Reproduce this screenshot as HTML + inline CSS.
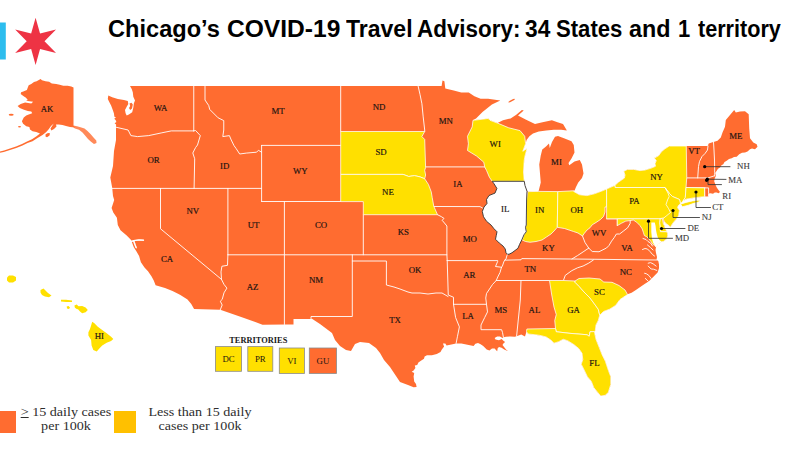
<!DOCTYPE html>
<html><head><meta charset="utf-8"><title>Chicago COVID-19 Travel Advisory</title>
<style>
html,body{margin:0;padding:0;background:#fff;}
body{width:800px;height:450px;position:relative;overflow:hidden;}
.title{position:absolute;left:109px;top:16.2px;font-family:"Liberation Sans",sans-serif;font-weight:bold;font-size:23.5px;color:#000;white-space:nowrap;letter-spacing:0px;}
.lb{font-family:"Liberation Serif",serif;font-size:8.8px;fill:#1c1410;stroke:#1c1410;stroke-width:0.18px;}
.ll{font-family:"Liberation Serif",serif;font-size:8.8px;fill:#3c3c3c;stroke:#3c3c3c;stroke-width:0.12px;}
.bx{font-family:"Liberation Serif",serif;font-size:8.8px;fill:#1c1410;}
.ter{font-family:"Liberation Serif",serif;font-size:8.4px;font-weight:bold;fill:#1a1a1a;}
.leg{position:absolute;font-family:"Liberation Serif",serif;font-size:13px;line-height:13.5px;color:#2d2d2d;text-align:center;white-space:nowrap;transform:scaleX(1.085);transform-origin:50% 0;}
.sw{position:absolute;}
</style></head><body>
<svg width="800" height="450" viewBox="0 0 800 450" style="position:absolute;left:0;top:0"><rect x="0" y="22.5" width="5.8" height="37" fill="#2DBDEE"/><polygon points="35.6,17.7 40.05,33.59 56.04,29.5 44.5,41.3 56.04,53.1 40.05,49.01 35.6,64.9 31.15,49.01 15.16,53.1 26.7,41.3 15.16,29.5 31.15,33.59" fill="#EE3344"/><polygon points="130,86 441.6,86 442.5,80.5 444.4,81.2 445.3,88.5 453.75,90.6 461.25,92.5 468.75,92.5 474.4,96.25 480.6,98.75 488.1,98.75 500.3,100.6 491.9,104.4 482.5,111.9 476,118.4 473,120.3 480,119.5 488.1,118.4 490,120.3 497.5,123.1 503,120.3 510.6,118.4 516.25,114.7 521.9,110 523.75,110.5 518,115.6 525.6,119.4 535,124 542.5,122.2 551.9,120.3 557.5,122.2 563,124 566.9,130.6 561.25,129.7 553.75,129.7 546.25,130.6 538.75,131.6 533,133.4 529.4,136.25 526.6,140 525.6,143.75 522.8,151.25 527,148.5 525,156 524.25,160 523.5,172 524.25,181.3 525,185.6 527,191.2 532.5,191.6 538.5,191.4 540.75,182.5 540,173.5 539.25,164.5 540.75,155.5 542.25,149.5 546,146.5 549,143.5 549.75,148 552,142 555,136.75 558,136 564,138.25 571.5,141.25 573.75,145 574.5,152.5 571.5,158.5 568.5,163 569.25,165.25 574.5,161.5 579.75,160 582,164.5 583.5,173.5 582,178 578.25,182.5 576,187 574.5,190.75 573.75,191.5 579.4,194.7 586.9,195.6 594.4,193.75 601.9,191 606.6,189 615,185.3 618.75,181.9 624.4,178.1 625,175 623.75,171.25 627.5,169.4 633.75,169.4 640,170.6 645,170 651.25,168.1 655.6,166.25 655,163.75 656.25,160.6 654.4,158.1 658.75,155.6 661.25,151.9 665,148.75 669.4,146 686.25,146 707.7,146 708.75,143.5 712.5,142.3 713.5,142 717.5,140.8 720.8,137.5 722.5,132.5 725,126.7 725.8,120 730,115 734.2,110 735.8,112.5 740,111.6 745,111.3 748.7,114.2 749.2,128.3 750,138.3 753.3,142.5 756.7,144.2 757.5,146.7 755,149.2 752,148.6 750,149.2 747.5,151.5 745,152.5 742,152.8 739.2,154.2 736.7,156.7 734,157 731.7,158.3 729,159 726.7,160.8 724.5,162 723.3,164.2 721.5,165.3 720,167.5 718,168.8 716.7,170.8 715,173.3 715.4,173.2 716,175.7 714.8,178.2 714.2,181.3 715.4,184.4 716.7,187.5 718.5,190 720,192 718.5,193.2 716.7,192.5 714.8,192.5 713,193.8 710.5,193.2 708.7,193.5 708.4,196.9 704.8,196.9 704.5,196.7 699,197.2 692,198.2 686,199.2 683,201 680.5,203.5 678.7,205.1 677.5,207.4 678.7,209.4 679.4,210.6 679,212.9 678.7,215.2 677.5,217.6 675.6,219.9 673.6,222.2 671.7,224.9 670.5,227.3 668.6,225.3 666.2,223.8 664.3,221.4 663.5,220.5 663.4,223.9 664.4,225.6 665,227.8 665.8,229.5 666.9,231.7 667.6,233.5 667.8,236 666.5,239 663.8,241.3 661,242 658,244 656,247 655.5,250 656,253 657,257 656.5,260 658.3,261 659,264.5 659,268.2 657.6,272.6 653.2,276.9 648.9,281.2 644.6,284.1 640.2,287 635.9,289.9 631.6,292.8 627.5,294.3 620,299.5 615.5,305.5 609.5,309.25 603.5,311.5 599.75,315.25 598.25,320.5 596,325 595.25,331 594.4,331.6 596,339.3 599.1,347.1 602.2,354.9 605.3,361.1 608.4,370.4 610.8,376.7 610.8,384.4 608.4,392.2 605.3,395.3 600.7,396.1 597.5,392.2 593.7,387.5 591.3,381.3 587.4,376.7 585.1,372 582.8,367.3 581.2,364.2 582.8,359.5 582,353.3 578.9,348.7 574.2,344.8 568,340.9 563.3,339.3 558.7,341.7 554,343.2 550.9,340.1 546.2,337 540,335.4 533,334.5 528,334 526.5,331.5 525,336.5 521.25,334.4 516.6,336.25 514.7,336.8 510.4,336.4 506,336.8 503.4,337.2 502.5,338.1 499.9,336.4 497.2,336.4 494.6,338.1 495.5,339.4 499,340.3 501.6,339 503.4,340.7 505.1,342.1 503.4,343.4 502.5,345.1 506,349.5 508.2,351.2 504.2,349.5 501.6,347.7 499,346.9 497.7,348.2 497.2,351.2 496.4,350.4 494.6,348.6 492,348.6 489.4,350.4 486.7,349.5 485,347.7 483.2,346 480.6,344.2 478,343 475.4,343.8 473.6,346 467.5,344.7 461.4,343.4 456.1,343.4 450.2,344.8 446.6,345.4 445.3,343.6 442.9,343.6 444.1,346.6 441.7,349.7 440.5,352.1 436.8,354 431.9,355.2 427,355.2 424.6,356.4 424,358.8 420.9,360.7 418.4,362.5 417.2,365 414.8,365.6 415.4,368 413.6,370.5 411.7,371.7 414.2,372.9 413.6,376.6 414.2,381.5 416,383.9 416.6,387 413.6,387.2 408,385 400,382 396,376 390,367 384,360 380,353 376,348 369,343 360,342 355,344 351,351 346,350 340,346 335,340 332,333 326,328.5 320,324 315,320.8 312,318.8 311,319 293.5,319 293.5,324.5 284.5,324.5 262.5,324.7 241.9,317.2 220.3,309.7 194.1,309.1 191.25,304 187.5,299.4 180,294.7 172.5,291 165,288.1 155.6,285.3 153.75,280.6 151.6,276.5 148,271.2 144.5,267.6 140.9,262.3 139.1,256 136.5,251.6 133.8,247.2 131.1,240 126.7,235.6 120.5,230.2 117.8,224.9 116.9,217.8 113.3,212.5 111.6,208 114.2,200 113,196 112.2,187.8 110.3,177.5 113,166 114,151 116,140 116,127.2 116.1,124.4 114.6,123.2 116.4,122 115.6,120 114.2,118.8 116,117.6 114.4,116.7 113.9,113.3 112.8,110 111.1,105.6 109.4,102.2 107.8,98.9 108.3,95.6 112.2,97.2 117.8,98.9 123.9,100 127.8,101.1 128.3,103.9 126.7,106.7 125,110 125.6,113.3 126.7,115.6 128.9,114.4 132.2,112.2 133.3,107.8 133.9,103.3 135,100.6 133.3,96.7 132.8,92.2 131.7,88.9" fill="#FF6C30"/><polygon points="40.6,79 42,80.3 45.5,81.2 49.1,81.7 51.8,83.4 56.2,83.9 59.7,84.8 63.3,85.7 67.7,85.7 71.3,86.5 73.5,87.4 73.5,125.6 75,127.6 70,127 66,126 62.5,125 58.75,124.4 56,124.5 56.5,126.5 54,129 51.25,130.6 50.5,128.5 53.75,123.6 51,126 48.5,129.5 46.25,131.9 42.5,135 37.5,138.1 32.5,141.25 27.5,143.1 22.5,145.6 16.25,148.1 10,150 3.75,151.9 0,152.8 0,151.6 4,150.4 10,148.5 16,146.5 22,144 27,141.6 32,139.3 36.5,136.3 40,133.6 36.25,131.9 32.5,131.25 30,129.4 29.4,126.9 26.25,126.25 23.1,123.75 21.9,121.25 23.75,117.5 26.25,115.6 28.7,114.5 32.2,113.2 31.3,111.4 27.8,111 23.3,109.6 19.8,107.9 17.6,106.1 20.7,103.9 25.1,102.5 31.3,103.4 33.1,101.7 26,100.8 27.8,99.9 26,97.7 23.3,95.9 20.7,94.1 21.1,92.3 23.3,91.4 26.9,90.1 27.8,87.4 28.7,85.2 31.3,83.9 34,82.1 36.6,81.2" fill="#FF6C30"/><polygon points="73.5,125.6 77,126.2 80.5,127.3 84.5,128.5 87.5,131 90.5,134 93.5,137.5 96.3,140.5 96.5,143 94,144 91,141.8 88,139 85.5,136 82.5,132.5 79,129.8 75,128.4 73.5,127.6" fill="#FF6C30" fill-opacity="0.8"/><polygon points="45.6,134.2 48,133 50,133.2 49.5,135.5 47,137.3 45.5,136.5" fill="#FF6C30"/><polygon points="129.5,103.5 131.5,102.8 132.8,104.5 132,108.5 130.2,110 129,108 130.2,106" fill="#FF6C30"/><ellipse cx="511.6" cy="100.6" rx="3.6" ry="0.8" fill="#FF6C30" transform="rotate(-28 511.6 100.6)"/><ellipse cx="11.2" cy="114.7" rx="2.5" ry="1" fill="#FF6C30"/><ellipse cx="19.5" cy="126.8" rx="1.5" ry="0.8" fill="#FF6C30"/><polyline points="116,127.2 128.1,130 130.9,135.6 137.5,136.6 148.75,135.6 161.9,132.8 171.25,130.9 193.75,130.9" fill="none" stroke="#FFFFFF" stroke-width="0.9" stroke-linejoin="round" stroke-linecap="round"/><polyline points="193.75,86 193.75,130.9" fill="none" stroke="#FFFFFF" stroke-width="0.9" stroke-linejoin="round" stroke-linecap="round"/><polyline points="193.75,130.9 195.6,130.5 200.3,135.6 197.5,145 195.6,147.5 192.8,153 194.7,158.75 194.1,188.4" fill="none" stroke="#FFFFFF" stroke-width="0.9" stroke-linejoin="round" stroke-linecap="round"/><polyline points="205,86 205,100 208.75,105.6 209.7,109.4 218.1,117.8 223.75,120.6 223.75,130 222.8,136.6 229.4,135.6 231.25,140 234,145.6 236,148.4 239.7,154 246.25,153.1 256.6,152.2 258.4,150.3 261.6,152.2" fill="none" stroke="#FFFFFF" stroke-width="0.9" stroke-linejoin="round" stroke-linecap="round"/><polyline points="261.6,145.4 340.7,145.4" fill="none" stroke="#FFFFFF" stroke-width="0.9" stroke-linejoin="round" stroke-linecap="round"/><polyline points="340.7,86 340.7,131.5" fill="none" stroke="#FFFFFF" stroke-width="0.9" stroke-linejoin="round" stroke-linecap="round"/><polyline points="261.6,145.4 261.6,201.5" fill="none" stroke="#FFFFFF" stroke-width="0.9" stroke-linejoin="round" stroke-linecap="round"/><polyline points="112.2,188.4 261.6,188.4" fill="none" stroke="#FFFFFF" stroke-width="0.9" stroke-linejoin="round" stroke-linecap="round"/><polyline points="160.5,188.4 160.5,228.75 221.5,279.4" fill="none" stroke="#FFFFFF" stroke-width="0.9" stroke-linejoin="round" stroke-linecap="round"/><polyline points="227.9,188.4 227.9,254.8" fill="none" stroke="#FFFFFF" stroke-width="0.9" stroke-linejoin="round" stroke-linecap="round"/><polyline points="227.9,254.8 227.5,265.3 221.9,266.25 221,271.9 221.5,279.4" fill="none" stroke="#FFFFFF" stroke-width="0.9" stroke-linejoin="round" stroke-linecap="round"/><polyline points="221.5,279.4 224,284.4 226.9,288.1 224,292.8 222.2,299.4 220.3,301.25 222.2,305 220.3,309.7" fill="none" stroke="#FFFFFF" stroke-width="0.9" stroke-linejoin="round" stroke-linecap="round"/><polyline points="261.6,201.5 340.7,201.5" fill="none" stroke="#FFFFFF" stroke-width="0.9" stroke-linejoin="round" stroke-linecap="round"/><polyline points="284.4,201.5 284.4,324.5" fill="none" stroke="#FFFFFF" stroke-width="0.9" stroke-linejoin="round" stroke-linecap="round"/><polyline points="227.9,254.8 446.9,254.8" fill="none" stroke="#FFFFFF" stroke-width="0.9" stroke-linejoin="round" stroke-linecap="round"/><polyline points="363.3,214.7 363.3,254.8" fill="none" stroke="#FFFFFF" stroke-width="0.9" stroke-linejoin="round" stroke-linecap="round"/><polyline points="352.3,254.8 352.3,316.5 311,316.5 311,319" fill="none" stroke="#FFFFFF" stroke-width="0.9" stroke-linejoin="round" stroke-linecap="round"/><polyline points="352.3,261 386.4,261 386.4,285 394,287 400,289 408,292 412,293 420,293 428,294 436,293 442,293 448,296.5" fill="none" stroke="#FFFFFF" stroke-width="0.9" stroke-linejoin="round" stroke-linecap="round"/><polyline points="437.5,214.7 441.25,216.6 444,218.4 442.2,220.3 446.9,226 446.9,254.8 447.2,260.6" fill="none" stroke="#FFFFFF" stroke-width="0.9" stroke-linejoin="round" stroke-linecap="round"/><polyline points="447.2,260.6 497.75,260.6 497.75,261.25 495.5,266.5 501.5,267.25" fill="none" stroke="#FFFFFF" stroke-width="0.9" stroke-linejoin="round" stroke-linecap="round"/><polyline points="447.2,260.6 448.25,295 453.5,297.25 453.5,304.3" fill="none" stroke="#FFFFFF" stroke-width="0.9" stroke-linejoin="round" stroke-linecap="round"/><polyline points="453.5,304.3 486.5,304.3" fill="none" stroke="#FFFFFF" stroke-width="0.9" stroke-linejoin="round" stroke-linecap="round"/><polyline points="453.5,304.3 455.6,317.5 459.4,326.9 457.5,336.25 456.1,343.4" fill="none" stroke="#FFFFFF" stroke-width="0.9" stroke-linejoin="round" stroke-linecap="round"/><polyline points="501.5,267.25 500,272.5 497.75,277 496.25,280.5 492.5,284.5 489.5,289 486.5,293.5 485.75,298 486.5,304.3 487.5,311.9 484.7,317.5 481,325 481,329.7 501.6,329.7 502.5,332.5 503.4,337.2" fill="none" stroke="#FFFFFF" stroke-width="0.9" stroke-linejoin="round" stroke-linecap="round"/><polyline points="521,280.5 520.3,300 516.6,336.25" fill="none" stroke="#FFFFFF" stroke-width="0.9" stroke-linejoin="round" stroke-linecap="round"/><polyline points="496.25,280.5 549.5,280.5" fill="none" stroke="#FFFFFF" stroke-width="0.9" stroke-linejoin="round" stroke-linecap="round"/><polyline points="508.25,253 506.75,256 506,259 504.5,260.5 503.75,262 502.25,266.5 501.5,267.25" fill="none" stroke="#FFFFFF" stroke-width="0.9" stroke-linejoin="round" stroke-linecap="round"/><polyline points="504.5,260.2 521,259.8 521.75,258.6 571.9,259 656.5,260" fill="none" stroke="#FFFFFF" stroke-width="0.9" stroke-linejoin="round" stroke-linecap="round"/><polyline points="593.4,260 588.75,263.1 583.1,266 577.5,267.8 571.9,270.6 565.3,275.3 563.4,280.5" fill="none" stroke="#FFFFFF" stroke-width="0.9" stroke-linejoin="round" stroke-linecap="round"/><polyline points="588.75,248.1 583.1,251.9 577.5,255.6 571.9,259" fill="none" stroke="#FFFFFF" stroke-width="0.9" stroke-linejoin="round" stroke-linecap="round"/><polyline points="582.5,236 585,242.5 588.75,248.1" fill="none" stroke="#FFFFFF" stroke-width="0.9" stroke-linejoin="round" stroke-linecap="round"/><polyline points="588.75,248.1 592.25,251.5 599,251.75 606.5,248 608.9,245.6 611.6,241.1 614.2,237.6 616.4,234 619.6,234 623.1,231.3 627.6,227.8 630.2,223.3 630.2,220.7" fill="none" stroke="#FFFFFF" stroke-width="0.9" stroke-linejoin="round" stroke-linecap="round"/><polyline points="606.6,218.8 617.3,218.8 617.3,225.6" fill="none" stroke="#FFFFFF" stroke-width="0.9" stroke-linejoin="round" stroke-linecap="round"/><polyline points="433.75,206.5 480,206.6 482.5,208" fill="none" stroke="#FFFFFF" stroke-width="0.9" stroke-linejoin="round" stroke-linecap="round"/><polyline points="425.6,166.9 484.7,166.9" fill="none" stroke="#FFFFFF" stroke-width="0.9" stroke-linejoin="round" stroke-linecap="round"/><polyline points="418.1,86 420,94.4 421.9,103.75 423.2,116.9 424.7,130 424.7,131.5" fill="none" stroke="#FFFFFF" stroke-width="0.9" stroke-linejoin="round" stroke-linecap="round"/><polyline points="708,146 707.5,150 705,153.5 702,156.5 699.5,161.5 698.5,166.5 697.7,177.9" fill="none" stroke="#FFFFFF" stroke-width="0.9" stroke-linejoin="round" stroke-linecap="round"/><polyline points="713.5,142 714,150 714.5,160 714.7,172.3 714.8,175.9" fill="none" stroke="#FFFFFF" stroke-width="0.9" stroke-linejoin="round" stroke-linecap="round"/><polyline points="686.75,177.9 708,177.9 714.5,175.8" fill="none" stroke="#FFFFFF" stroke-width="0.9" stroke-linejoin="round" stroke-linecap="round"/><polyline points="686,187.5 705,187.8" fill="none" stroke="#FFFFFF" stroke-width="0.9" stroke-linejoin="round" stroke-linecap="round"/><polyline points="131.2,241.4 135,240.6 139,240 143.5,240.3" fill="none" stroke="#FFFFFF" stroke-width="0.9" stroke-linejoin="round" stroke-linecap="round"/><polyline points="134,241 135.3,244.5 136.4,248" fill="none" stroke="#FFFFFF" stroke-width="0.9" stroke-linejoin="round" stroke-linecap="round"/><polyline points="643,238.5 646,239.5 648,241.5 650.5,243 652.5,246" fill="none" stroke="#FFFFFF" stroke-width="0.9" stroke-linejoin="round" stroke-linecap="round"/><polyline points="642.5,249.5 645,248.5 647.5,249 650,251.5 652.5,254.5 654.5,256" fill="none" stroke="#FFFFFF" stroke-width="0.9" stroke-linejoin="round" stroke-linecap="round"/><polyline points="647.5,245 650.5,247.5 653,250" fill="none" stroke="#FFFFFF" stroke-width="0.9" stroke-linejoin="round" stroke-linecap="round"/><polyline points="648.2,263.2 650.5,262.6 653.2,263.9 656.1,266.1" fill="none" stroke="#FFFFFF" stroke-width="0.9" stroke-linejoin="round" stroke-linecap="round"/><polyline points="648.2,266.1 651.1,269 653.5,269.2 656.8,270.4" fill="none" stroke="#FFFFFF" stroke-width="0.9" stroke-linejoin="round" stroke-linecap="round"/><polyline points="644.6,273.3 646.5,273.8 648.9,275.5 651.1,278.4" fill="none" stroke="#FFFFFF" stroke-width="0.9" stroke-linejoin="round" stroke-linecap="round"/><polyline points="645.3,278.4 648.2,281.2" fill="none" stroke="#FFFFFF" stroke-width="0.9" stroke-linejoin="round" stroke-linecap="round"/><polyline points="131.3,241.3 135,240.4 139,239.9 143.5,240.2" fill="none" stroke="#FFFFFF" stroke-width="1.3" stroke-linejoin="round" stroke-linecap="round"/><polyline points="133.5,241 134.8,244.5 136,247.5" fill="none" stroke="#FFFFFF" stroke-width="1.3" stroke-linejoin="round" stroke-linecap="round"/><polygon points="704.6,187.9 708.6,187.9 708.6,193.3 708.4,196.9 704.8,196.9" fill="#FF6C30" stroke="#FFFFFF" stroke-width="0.9" stroke-linejoin="round"/><polygon points="340.7,131.5 424.7,131.5 421.9,136.6 424.7,139.4 425.6,167.5 424.7,170.3 425.6,175 424.7,178.75 420,176.9 414.4,175.6 408.75,176.5 403.1,174.4 340.7,174.4" fill="#FFE000" stroke="#FFFFFF" stroke-width="1.0" stroke-linejoin="round" stroke-opacity="0.75"/><polygon points="340.7,174.4 403.1,174.4 408.75,176.5 414.4,175.6 420,176.9 424.7,178.75 428.4,184.4 431.25,191.9 432.2,197.5 433.75,206.25 437.5,214.7 363.3,214.7 363.3,201.6 340.7,201.6" fill="#FFE000" stroke="#FFFFFF" stroke-width="1.0" stroke-linejoin="round" stroke-opacity="0.75"/><polygon points="473,120.3 480,119.5 488.1,118.4 490,120.3 497.5,123.1 508.75,127.8 520,130.6 524.7,136.25 525.6,143.75 522.8,151.25 527,148.5 525,156 524.25,160 523.5,172 524.25,181.3 492.2,181.3 489.4,177.2 486.6,170.6 484.7,166.9 483.75,162.2 476.5,156 467.5,150.5 468.4,143.75 467.5,136.25 472.2,126.9" fill="#FFE000" stroke="#FFFFFF" stroke-width="1.0" stroke-linejoin="round" stroke-opacity="0.75"/><polygon points="527.8,191.6 538.5,191.4 557.8,191.6 557.3,227.25 554,231 551,234 546.5,237 542,240 536,241.5 530,242.25 525.5,241.5 522.2,240 524,234.75 526.25,231.75 525.5,227.25 526.25,225 526.6,200" fill="#FFE000" stroke="#FFFFFF" stroke-width="1.0" stroke-linejoin="round" stroke-opacity="0.75"/><polygon points="557.8,191.6 574.5,190.75 573.75,191.5 579.4,194.7 586.9,195.6 594.4,193.75 601.9,191 606.6,189 606.6,206.9 605,207 605,212 603.5,216.5 600.5,219.5 596,222.5 592.25,224.75 590,227.75 587,230 584,233.75 582.5,236 578,233 573.5,231.5 569,230 564.5,228.5 560,227.75 557.3,227.25" fill="#FFE000" stroke="#FFFFFF" stroke-width="1.0" stroke-linejoin="round" stroke-opacity="0.75"/><polygon points="606.6,189 615,185.3 615.3,187.5 665,187.5 668.4,193 670,196.5 667.75,200.5 667,205 670,208.5 671,213 667,216.5 664,218 658.7,218.7 606.6,218.8" fill="#FFE000" stroke="#FFFFFF" stroke-width="1.0" stroke-linejoin="round" stroke-opacity="0.75"/><polygon points="615,185.3 618.75,181.9 624.4,178.1 625,175 623.75,171.25 627.5,169.4 633.75,169.4 640,170.6 645,170 651.25,168.1 655.6,166.25 655,163.75 656.25,160.6 654.4,158.1 658.75,155.6 661.25,151.9 665,148.75 669.4,146 686.25,146 686.75,177.75 686,187.5 685.3,197.5 683,201 680.5,203.5 679.5,199.5 672.5,196.5 669.5,193.5 665,187.5 615.3,187.5" fill="#FFE000" stroke="#FFFFFF" stroke-width="1.0" stroke-linejoin="round" stroke-opacity="0.75"/><polygon points="680.5,204.2 686,202.4 692.5,200.9 698,200.2 701,200.6 698,202.2 693,203.6 688.5,205.2 682.5,206.8" fill="#FFE000" stroke="#FFFFFF" stroke-width="1.0" stroke-linejoin="round" stroke-opacity="0.75"/><polygon points="686,187.5 704.6,187.9 704.5,196.7 699,197.2 692,198.2 686,199.2 683,201 685.3,197.5" fill="#FFE000" stroke="#FFFFFF" stroke-width="1.0" stroke-linejoin="round" stroke-opacity="0.75"/><polygon points="665,187.5 669.5,193.5 672.5,196.5 679.5,199.5 680.5,203.5 678.7,205.1 677.5,207.4 678.7,209.4 679.4,210.6 679,212.9 678.7,215.2 677.5,217.6 675.6,219.9 673.6,222.2 671.7,224.9 670.5,227.3 668.6,225.3 666.2,223.8 664.3,221.4 663.3,219.5 663.4,218.3 666.1,216.1 670.5,212.5 668.5,208.5 666,204.5 667.5,200 669.2,196.5 668,193" fill="#FFE000" stroke="#FFFFFF" stroke-width="1.0" stroke-linejoin="round" stroke-opacity="0.75"/><polygon points="660,218.8 662.4,218.4 662.8,221.1 663.4,223.9 664.4,225.6 665,227.8 665.8,229.5 666.9,231.7 660.4,231.7 660,226.3 659.6,222.8" fill="#FFE000" stroke="#FFFFFF" stroke-width="1.0" stroke-linejoin="round" stroke-opacity="0.75"/><polygon points="617.3,218.8 660,218.8 659.6,222.8 660,226.3 660.4,231.7 666.9,231.7 667.6,233.5 667.8,236 666.5,239 663.8,241.3 661,242 658,244 656,247 654.5,245 653,244.5 651,241.5 648.9,238.9 646.7,236.7 644.4,235.6 643.3,232.2 642.2,228.9 640,225.6 636.7,222.2 633.3,220 630,220.6 625.8,221.1 621.3,223.3 617.3,225.6" fill="#FFE000" stroke="#FFFFFF" stroke-width="1.0" stroke-linejoin="round" stroke-opacity="0.75"/><polygon points="549.5,280.5 563.4,280.5 575,281 575,282.25 579.5,286.75 584,292 590,298 594.5,304 598.25,309.25 599.75,315.25 598.25,320.5 596,325 595.25,331 594.4,331.6 590,331.75 589.25,336.25 587,334.75 569,333.25 556.25,331.75 555.5,328.5 554.75,320.5 556.25,314.5 554,307 551.75,295" fill="#FFE000" stroke="#FFFFFF" stroke-width="1.0" stroke-linejoin="round" stroke-opacity="0.75"/><polygon points="575,281 579,278.5 589,278 600,279 603.75,282 612,282.3 619,285.5 625,290 627.5,294.5 620,299.5 615.5,305.5 609.5,309.25 603.5,311.5 599.75,315.25 598.25,309.25 594.5,304 590,298 584,292 579.5,286.75 575,282.25" fill="#FFE000" stroke="#FFFFFF" stroke-width="1.0" stroke-linejoin="round" stroke-opacity="0.75"/><polygon points="526.9,329 555.5,328.5 556.25,331.75 569,333.25 587,334.75 589.25,336.25 590,331.75 594.4,331.6 596,339.3 599.1,347.1 602.2,354.9 605.3,361.1 608.4,370.4 610.8,376.7 610.8,384.4 608.4,392.2 605.3,395.3 600.7,396.1 597.5,392.2 593.7,387.5 591.3,381.3 587.4,376.7 585.1,372 582.8,367.3 581.2,364.2 582.8,359.5 582,353.3 578.9,348.7 574.2,344.8 568,340.9 563.3,339.3 558.7,341.7 554,343.2 550.9,340.1 546.2,337 540,335.4 533,334.5 528,334 526.5,331.5" fill="#FFE000" stroke="#FFFFFF" stroke-width="1.0" stroke-linejoin="round" stroke-opacity="0.75"/><polygon points="651.3,222.6 654.8,222.6 655.6,226 656,230 656.8,234 657.8,237.5 659.5,240 661.5,241.6 658,244.3 656,247.3 654.5,245 653,242.5 652,238.8 651.3,232" fill="#FFFFFF"/><polygon points="7,277.5 9,275.6 13,275.4 16,277 16,280.5 13,282.6 9,282.4 7,280.5" fill="#FFE000"/><polygon points="40.5,290 43.5,288.4 45.5,290.5 48,293 51.5,295.5 49,297.3 45,296.5 42,295 40.5,292.5" fill="#FFE000"/><polygon points="61,299.8 66,299.8 72,300.5 72,302 66,302 61,301.5" fill="#FFE000"/><polygon points="66.7,306.5 68.5,306 70,307.5 69,309 67,308.5" fill="#FFE000"/><polygon points="74.4,305.6 76.7,304.4 78.5,306.3 82.2,306 85.6,307.6 87.8,310 85.6,312.2 82.2,313.3 80,311.6 78,309.3 76.7,309 74.9,307.8" fill="#FFE000"/><polygon points="92.2,321.8 94.4,323.3 97.8,326.7 102.2,330 106.7,333.3 111.1,336.7 113.3,338.9 111.1,341.1 106.7,342.7 102.2,345.6 98.9,348.9 96.7,351.6 93.3,350 91.6,345.6 91.1,340 88.4,335.6 88.4,332.2 90,328.9 91.1,325.6" fill="#FFE000"/><polygon points="492.2,181.3 524.25,181.3 525,185.6 527,191.2 526.6,200 526.4,215 526.25,225 525.5,227.25 526.25,231.75 524,234.75 521.75,240 519.5,244.5 518,248.25 515,250.5 512,252.75 509,254.25 507.5,254.25 506,252.75 505.25,249 503,246 499.25,243 495.5,239.25 496.25,235.5 497,231.75 494,228.75 491,225 486.5,221.25 483.5,216.75 482.3,211.5 484,207 487,203.5 486.5,199.5 489,195.5 495,193.1 496.9,188.4 494,183.75" fill="#FFFFFF" stroke="#333333" stroke-width="0.9" stroke-linejoin="round"/><text x="47" y="111.60" text-anchor="middle" class="lb">AK</text><text x="160.5" y="110.60" text-anchor="middle" class="lb">WA</text><text x="153.5" y="162.80" text-anchor="middle" class="lb">OR</text><text x="224.7" y="169.30" text-anchor="middle" class="lb">ID</text><text x="192.8" y="214.30" text-anchor="middle" class="lb">NV</text><text x="278" y="114.30" text-anchor="middle" class="lb">MT</text><text x="300.25" y="174.40" text-anchor="middle" class="lb">WY</text><text x="379" y="109.60" text-anchor="middle" class="lb">ND</text><text x="381" y="154.50" text-anchor="middle" class="lb">SD</text><text x="387.9" y="194.90" text-anchor="middle" class="lb">NE</text><text x="445.8" y="124.30" text-anchor="middle" class="lb">MN</text><text x="458" y="187.30" text-anchor="middle" class="lb">IA</text><text x="495.2" y="146.90" text-anchor="middle" class="lb">WI</text><text x="556.5" y="164.85" text-anchor="middle" class="lb">MI</text><text x="505.25" y="212.45" text-anchor="middle" class="lb">IL</text><text x="539.75" y="212.60" text-anchor="middle" class="lb">IN</text><text x="576.75" y="212.80" text-anchor="middle" class="lb">OH</text><text x="634.4" y="204.00" text-anchor="middle" class="lb">PA</text><text x="656.5" y="179.50" text-anchor="middle" class="lb">NY</text><text x="694" y="154.35" text-anchor="middle" class="lb">VT</text><text x="735.75" y="139.35" text-anchor="middle" class="lb">ME</text><text x="743.4" y="169.30" text-anchor="middle" class="ll">NH</text><text x="735.25" y="182.60" text-anchor="middle" class="ll">MA</text><text x="726.75" y="198.85" text-anchor="middle" class="ll">RI</text><text x="717.75" y="210.10" text-anchor="middle" class="ll">CT</text><text x="706.75" y="219.85" text-anchor="middle" class="ll">NJ</text><text x="693.25" y="230.60" text-anchor="middle" class="ll">DE</text><text x="682" y="241.35" text-anchor="middle" class="ll">MD</text><text x="599" y="236.35" text-anchor="middle" class="lb">WV</text><text x="627.1" y="250.60" text-anchor="middle" class="lb">VA</text><text x="548.4" y="250.70" text-anchor="middle" class="lb">KY</text><text x="530.25" y="271.90" text-anchor="middle" class="lb">TN</text><text x="625.75" y="274.60" text-anchor="middle" class="lb">NC</text><text x="599.5" y="295.30" text-anchor="middle" class="lb">SC</text><text x="573.5" y="313.35" text-anchor="middle" class="lb">GA</text><text x="594.5" y="366.00" text-anchor="middle" class="lb">FL</text><text x="534.4" y="313.10" text-anchor="middle" class="lb">AL</text><text x="500.9" y="313.10" text-anchor="middle" class="lb">MS</text><text x="468.1" y="318.70" text-anchor="middle" class="lb">LA</text><text x="469.25" y="278.10" text-anchor="middle" class="lb">AR</text><text x="395" y="323.10" text-anchor="middle" class="lb">TX</text><text x="415" y="273.10" text-anchor="middle" class="lb">OK</text><text x="403.4" y="235.10" text-anchor="middle" class="lb">KS</text><text x="469.8" y="241.60" text-anchor="middle" class="lb">MO</text><text x="316" y="283.10" text-anchor="middle" class="lb">NM</text><text x="252.5" y="289.80" text-anchor="middle" class="lb">AZ</text><text x="253.6" y="228.10" text-anchor="middle" class="lb">UT</text><text x="321" y="228.10" text-anchor="middle" class="lb">CO</text><text x="167" y="261.80" text-anchor="middle" class="lb">CA</text><text x="99.3" y="338.80" text-anchor="middle" class="lb">HI</text><polyline points="704.7,166.7 730,166.7" fill="none" stroke="#333333" stroke-width="0.85" stroke-linejoin="round" stroke-linecap="round"/><circle cx="704.7" cy="166.7" r="1.6" fill="#000"/><polyline points="707.3,179.2 726,179.4" fill="none" stroke="#333333" stroke-width="0.85" stroke-linejoin="round" stroke-linecap="round"/><circle cx="707.3" cy="179.2" r="1.6" fill="#000"/><polyline points="708,180.5 708,184.6 721.5,184.6" fill="none" stroke="#333333" stroke-width="0.85" stroke-linejoin="round" stroke-linecap="round"/><circle cx="706.6" cy="180.3" r="1.6" fill="#000"/><polyline points="696,192 696,207.5 710.5,207.5" fill="none" stroke="#333333" stroke-width="0.85" stroke-linejoin="round" stroke-linecap="round"/><circle cx="696" cy="192" r="1.6" fill="#000"/><polyline points="673,210.5 673,217.5 699.5,217.5" fill="none" stroke="#333333" stroke-width="0.85" stroke-linejoin="round" stroke-linecap="round"/><circle cx="673" cy="210.5" r="1.6" fill="#000"/><polyline points="661.5,228.5 685,228.5" fill="none" stroke="#333333" stroke-width="0.85" stroke-linejoin="round" stroke-linecap="round"/><circle cx="661.5" cy="228.5" r="1.6" fill="#000"/><polyline points="648.5,221.2 648.5,238.3 672.5,238.3" fill="none" stroke="#333333" stroke-width="0.85" stroke-linejoin="round" stroke-linecap="round"/><circle cx="648.5" cy="221.2" r="1.6" fill="#000"/><text x="258.3" y="342.8" text-anchor="middle" class="ter">TERRITORIES</text><rect x="215.4" y="346.6" width="26.2" height="24.7" fill="#FFE000" stroke="#8a8a8a" stroke-width="0.8"/><text x="228.50" y="361.75" text-anchor="middle" class="bx">DC</text><rect x="247.8" y="346.6" width="25" height="24.7" fill="#FFE000" stroke="#8a8a8a" stroke-width="0.8"/><text x="260.30" y="361.75" text-anchor="middle" class="bx">PR</text><rect x="279.3" y="348" width="25.1" height="25.4" fill="#FFE000" stroke="#8a8a8a" stroke-width="0.8"/><text x="291.85" y="363.50" text-anchor="middle" class="bx">VI</text><rect x="309.3" y="348" width="27.2" height="25.4" fill="#FF6C30" stroke="#8a8a8a" stroke-width="0.8"/><text x="322.90" y="363.50" text-anchor="middle" class="bx">GU</text></svg>
<div class="title"><span style="position:absolute;left:-1.10px;top:0;transform:scaleX(1.0040);transform-origin:0 0">Chicago’s </span><span style="position:absolute;left:118.36px;top:0;transform:scaleX(1.0459);transform-origin:0 0">COVID-19 </span><span style="position:absolute;left:236.52px;top:0;transform:scaleX(0.9795);transform-origin:0 0">Travel </span><span style="position:absolute;left:307.74px;top:0;transform:scaleX(0.9539);transform-origin:0 0">Advisory: </span><span style="position:absolute;left:415.73px;top:0;transform:scaleX(0.9668);transform-origin:0 0">34 </span><span style="position:absolute;left:446.75px;top:0;transform:scaleX(0.9403);transform-origin:0 0">States </span><span style="position:absolute;left:520.21px;top:0;transform:scaleX(0.9936);transform-origin:0 0">and </span><span style="position:absolute;left:569.00px;top:0;transform:scaleX(0.9345);transform-origin:0 0">1 </span><span style="position:absolute;left:589.01px;top:0;transform:scaleX(0.9195);transform-origin:0 0">territory</span></div>
<div class="sw" style="left:0;top:411px;width:16px;height:22px;background:#FF6C30"></div>
<div class="sw" style="left:114px;top:411px;width:22px;height:22px;background:#FFC000"></div>
<div class="leg" style="left:20px;top:405.3px;width:92px;"><u>&gt;</u> 15 daily cases<br>per 100k</div>
<div class="leg" style="left:146px;top:405.3px;width:108px;">Less than 15 daily<br>cases per 100k</div>
</body></html>
